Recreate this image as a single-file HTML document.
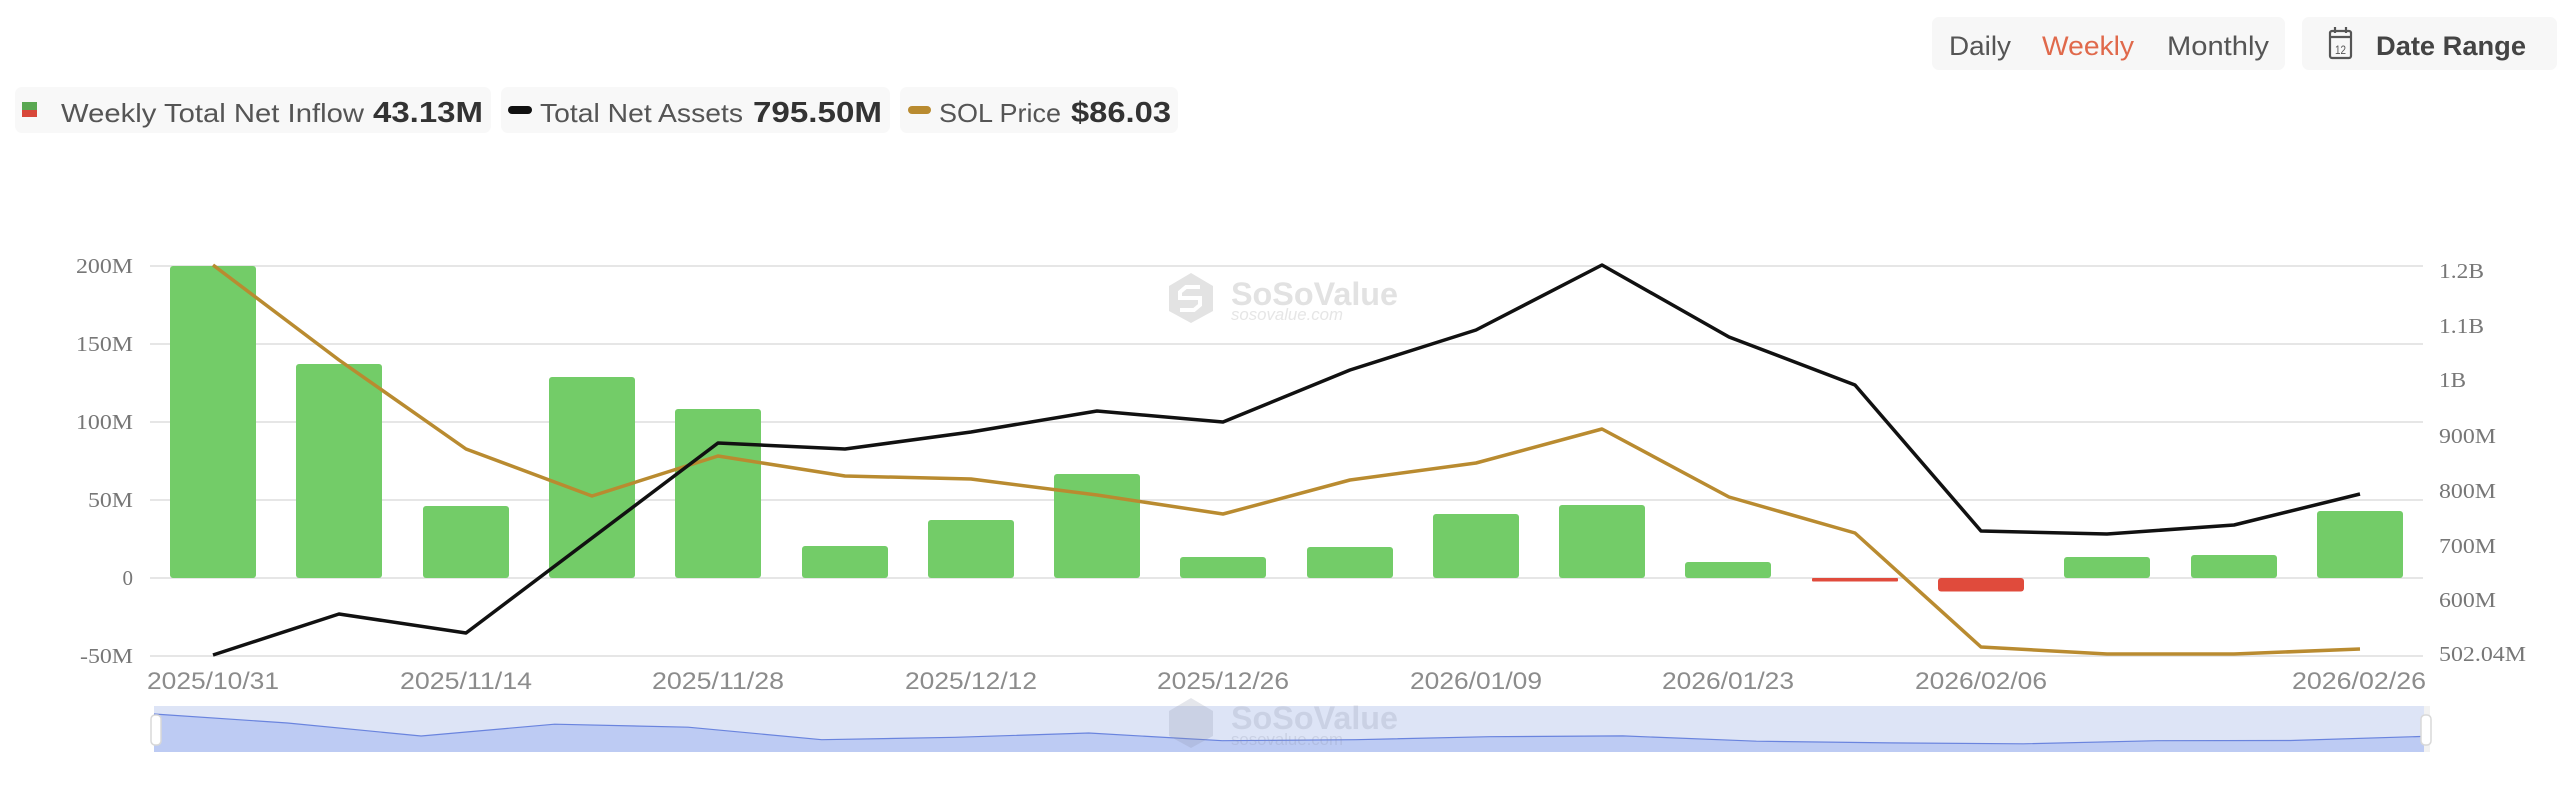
<!DOCTYPE html>
<html><head><meta charset="utf-8"><style>
html,body{margin:0;padding:0;background:#fff;}
svg{display:block;}
</style></head><body>
<svg width="2560" height="805" viewBox="0 0 2560 805" xmlns="http://www.w3.org/2000/svg">
<rect width="2560" height="805" fill="#fff"/>

<!-- Top right controls -->
<rect x="1932" y="17" width="353" height="53" rx="7" fill="#f7f7f7"/>
<g font-family="Liberation Sans, sans-serif" font-size="27">
<text x="1949" y="55" fill="#555" textLength="62" lengthAdjust="spacingAndGlyphs">Daily</text>
<text x="2042" y="55" fill="#e0694b" textLength="92" lengthAdjust="spacingAndGlyphs">Weekly</text>
<text x="2167" y="55" fill="#555" textLength="102" lengthAdjust="spacingAndGlyphs">Monthly</text>
</g>
<rect x="2302" y="17" width="255" height="53" rx="7" fill="#f7f7f7"/>
<g fill="none" stroke="#555" stroke-width="2.2">
<rect x="2330" y="31" width="21" height="27" rx="2"/>
<line x1="2330" y1="37" x2="2351" y2="37"/>
<line x1="2335" y1="27" x2="2335" y2="33"/>
<line x1="2346" y1="27" x2="2346" y2="33"/>
</g>
<text x="2335" y="54" font-family="Liberation Sans, sans-serif" font-size="12" fill="#555" textLength="11" lengthAdjust="spacingAndGlyphs">12</text>
<text x="2376" y="55" font-family="Liberation Sans, sans-serif" font-size="27" font-weight="bold" fill="#444" textLength="150" lengthAdjust="spacingAndGlyphs">Date Range</text>

<!-- Legend -->
<rect x="15" y="87" width="476" height="46" rx="7" fill="#f8f8f8"/>
<rect x="22" y="102" width="15" height="8" fill="#5aa852"/>
<rect x="22" y="110" width="15" height="7" fill="#d8473a"/>
<text x="61" y="122" font-family="Liberation Sans, sans-serif" font-size="26" fill="#555" textLength="303" lengthAdjust="spacingAndGlyphs">Weekly Total Net Inflow</text>
<text x="373" y="122" font-family="Liberation Sans, sans-serif" font-size="29" font-weight="bold" fill="#333" textLength="110" lengthAdjust="spacingAndGlyphs">43.13M</text>

<rect x="501" y="87" width="389" height="46" rx="7" fill="#f8f8f8"/>
<rect x="508" y="106" width="24" height="8" rx="4" fill="#111"/>
<text x="540" y="122" font-family="Liberation Sans, sans-serif" font-size="26" fill="#555" textLength="203" lengthAdjust="spacingAndGlyphs">Total Net Assets</text>
<text x="753" y="122" font-family="Liberation Sans, sans-serif" font-size="29" font-weight="bold" fill="#333" textLength="129" lengthAdjust="spacingAndGlyphs">795.50M</text>

<rect x="900" y="87" width="278" height="46" rx="7" fill="#f8f8f8"/>
<rect x="908" y="106" width="23" height="8" rx="4" fill="#b98b30"/>
<text x="939" y="122" font-family="Liberation Sans, sans-serif" font-size="26" fill="#555" textLength="122" lengthAdjust="spacingAndGlyphs">SOL Price</text>
<text x="1071" y="122" font-family="Liberation Sans, sans-serif" font-size="29" font-weight="bold" fill="#333" textLength="100" lengthAdjust="spacingAndGlyphs">$86.03</text>

<!-- Gridlines -->
<g stroke="#e6e6e6" stroke-width="2">
<line x1="150" y1="266" x2="2423" y2="266"/>
<line x1="150" y1="344" x2="2423" y2="344"/>
<line x1="150" y1="422" x2="2423" y2="422"/>
<line x1="150" y1="500" x2="2423" y2="500"/>
<line x1="150" y1="578" x2="2423" y2="578"/>
<line x1="150" y1="656" x2="2423" y2="656"/>
</g>

<!-- Left axis labels -->
<g font-family="Liberation Serif, serif" font-size="21" fill="#777" text-anchor="end">
<text x="133" y="273" textLength="57" lengthAdjust="spacingAndGlyphs">200M</text>
<text x="133" y="351" textLength="57" lengthAdjust="spacingAndGlyphs">150M</text>
<text x="133" y="429" textLength="57" lengthAdjust="spacingAndGlyphs">100M</text>
<text x="133" y="507" textLength="45" lengthAdjust="spacingAndGlyphs">50M</text>
<text x="133" y="585">0</text>
<text x="133" y="663" textLength="53" lengthAdjust="spacingAndGlyphs">-50M</text>
</g>

<!-- Right axis labels -->
<g font-family="Liberation Serif, serif" font-size="21" fill="#777">
<text x="2439" y="278" textLength="45" lengthAdjust="spacingAndGlyphs">1.2B</text>
<text x="2439" y="333" textLength="45" lengthAdjust="spacingAndGlyphs">1.1B</text>
<text x="2439" y="387" textLength="27" lengthAdjust="spacingAndGlyphs">1B</text>
<text x="2439" y="443" textLength="57" lengthAdjust="spacingAndGlyphs">900M</text>
<text x="2439" y="498" textLength="57" lengthAdjust="spacingAndGlyphs">800M</text>
<text x="2439" y="553" textLength="57" lengthAdjust="spacingAndGlyphs">700M</text>
<text x="2439" y="607" textLength="57" lengthAdjust="spacingAndGlyphs">600M</text>
<text x="2439" y="661" textLength="87" lengthAdjust="spacingAndGlyphs">502.04M</text>
</g>

<!-- Watermark main -->
<g opacity="1">
<polygon points="1191,273 1213,286 1213,311 1191,323 1169,311 1169,286" fill="#e3e3e3"/>
<path d="M1200,287 L1186,287 L1180,292 L1180,298 L1200,298 L1200,305 L1194,310 L1180,310" fill="none" stroke="#fff" stroke-width="4"/>
<text x="1231" y="305" font-family="Liberation Sans, sans-serif" font-size="32" font-weight="bold" fill="#e2e2e2" textLength="167" lengthAdjust="spacingAndGlyphs">SoSoValue</text>
<text x="1231" y="320" font-family="Liberation Sans, sans-serif" font-size="17" font-style="italic" fill="#e6e6e6" textLength="112" lengthAdjust="spacingAndGlyphs">sosovalue.com</text>
</g>

<!-- Bars -->
<g fill="#73cc68">
<rect x="170" y="266" width="86" height="312" rx="3"/>
<rect x="296" y="364" width="86" height="214" rx="3"/>
<rect x="423" y="506" width="86" height="72" rx="3"/>
<rect x="549" y="377" width="86" height="201" rx="3"/>
<rect x="675" y="409" width="86" height="169" rx="3"/>
<rect x="802" y="546" width="86" height="32" rx="3"/>
<rect x="928" y="520" width="86" height="58" rx="3"/>
<rect x="1054" y="474" width="86" height="104" rx="3"/>
<rect x="1180" y="557" width="86" height="21" rx="3"/>
<rect x="1307" y="547" width="86" height="31" rx="3"/>
<rect x="1433" y="514" width="86" height="64" rx="3"/>
<rect x="1559" y="505" width="86" height="73" rx="3"/>
<rect x="1685" y="562" width="86" height="16" rx="3"/>
<rect x="2064" y="557" width="86" height="21" rx="3"/>
<rect x="2191" y="555" width="86" height="23" rx="3"/>
<rect x="2317" y="511" width="86" height="67" rx="3"/>
</g>
<g fill="#e04b3c">
<rect x="1812" y="578" width="86" height="3.5" rx="1"/>
<rect x="1938" y="578" width="86" height="13.5" rx="3"/>
</g>

<!-- SOL Price line -->
<polyline fill="none" stroke="#b98b30" stroke-width="3.5" stroke-linejoin="round"
points="213,265 339,360 466,449 592,496 718,456 845,476 971,479 1097,495 1223,514 1350,480 1476,463 1602,429 1729,497 1855,533 1981,647 2107,654 2234,654 2360,649"/>

<!-- Total Net Assets line -->
<polyline fill="none" stroke="#111" stroke-width="3.5" stroke-linejoin="round"
points="213,655 339,614 466,633 718,443 845,449 971,432 1097,411 1223,422 1350,370 1476,330 1602,265 1729,337 1855,385 1981,531 2107,534 2234,525 2360,494"/>

<!-- X axis labels -->
<g font-family="Liberation Sans, sans-serif" font-size="24" fill="#8c8c8c" text-anchor="middle">
<text x="213" y="689" textLength="132" lengthAdjust="spacingAndGlyphs">2025/10/31</text>
<text x="466" y="689" textLength="132" lengthAdjust="spacingAndGlyphs">2025/11/14</text>
<text x="718" y="689" textLength="132" lengthAdjust="spacingAndGlyphs">2025/11/28</text>
<text x="971" y="689" textLength="132" lengthAdjust="spacingAndGlyphs">2025/12/12</text>
<text x="1223" y="689" textLength="132" lengthAdjust="spacingAndGlyphs">2025/12/26</text>
<text x="1476" y="689" textLength="132" lengthAdjust="spacingAndGlyphs">2026/01/09</text>
<text x="1728" y="689" textLength="132" lengthAdjust="spacingAndGlyphs">2026/01/23</text>
<text x="1981" y="689" textLength="132" lengthAdjust="spacingAndGlyphs">2026/02/06</text>
<text x="2359" y="689" textLength="134" lengthAdjust="spacingAndGlyphs">2026/02/26</text>
</g>

<!-- Slider -->
<rect x="154" y="706" width="2270" height="46" fill="#dde4f6"/>
<polygon fill="#bdcbf3" points="154,752 154,714 287.5,723 421.1,736 554.6,724.2 688.1,727.2 821.7,739.7 955.2,737.3 1088.7,733 1222.2,740.7 1355.8,739.7 1489.3,736.7 1622.8,735.9 1756.4,741.2 1889.9,742.9 2023.4,743.8 2157,740.7 2290.5,740.5 2424,736.4 2424,752"/>
<polyline fill="none" stroke="#6a84de" stroke-width="1.2" points="154,714 287.5,723 421.1,736 554.6,724.2 688.1,727.2 821.7,739.7 955.2,737.3 1088.7,733 1222.2,740.7 1355.8,739.7 1489.3,736.7 1622.8,735.9 1756.4,741.2 1889.9,742.9 2023.4,743.8 2157,740.7 2290.5,740.5 2424,736.4"/>
<rect x="2424" y="706" width="6" height="46" fill="#f2f2f2"/>
<rect x="151" y="715" width="10" height="30" rx="4" fill="#fff" stroke="#d8d8d8" stroke-width="1.5"/>
<rect x="2421" y="715" width="10" height="30" rx="4" fill="#fff" stroke="#d8d8d8" stroke-width="1.5"/>

<!-- Watermark slider -->
<g fill="#8a8fa8" opacity="0.22">
<polygon points="1191,698 1213,711 1213,736 1191,748 1169,736 1169,711"/>
<text x="1231" y="729" font-family="Liberation Sans, sans-serif" font-size="32" font-weight="bold" textLength="167" lengthAdjust="spacingAndGlyphs">SoSoValue</text>
<text x="1231" y="745" font-family="Liberation Sans, sans-serif" font-size="17" textLength="112" lengthAdjust="spacingAndGlyphs">sosovalue.com</text>
</g>
</svg>
</body></html>
